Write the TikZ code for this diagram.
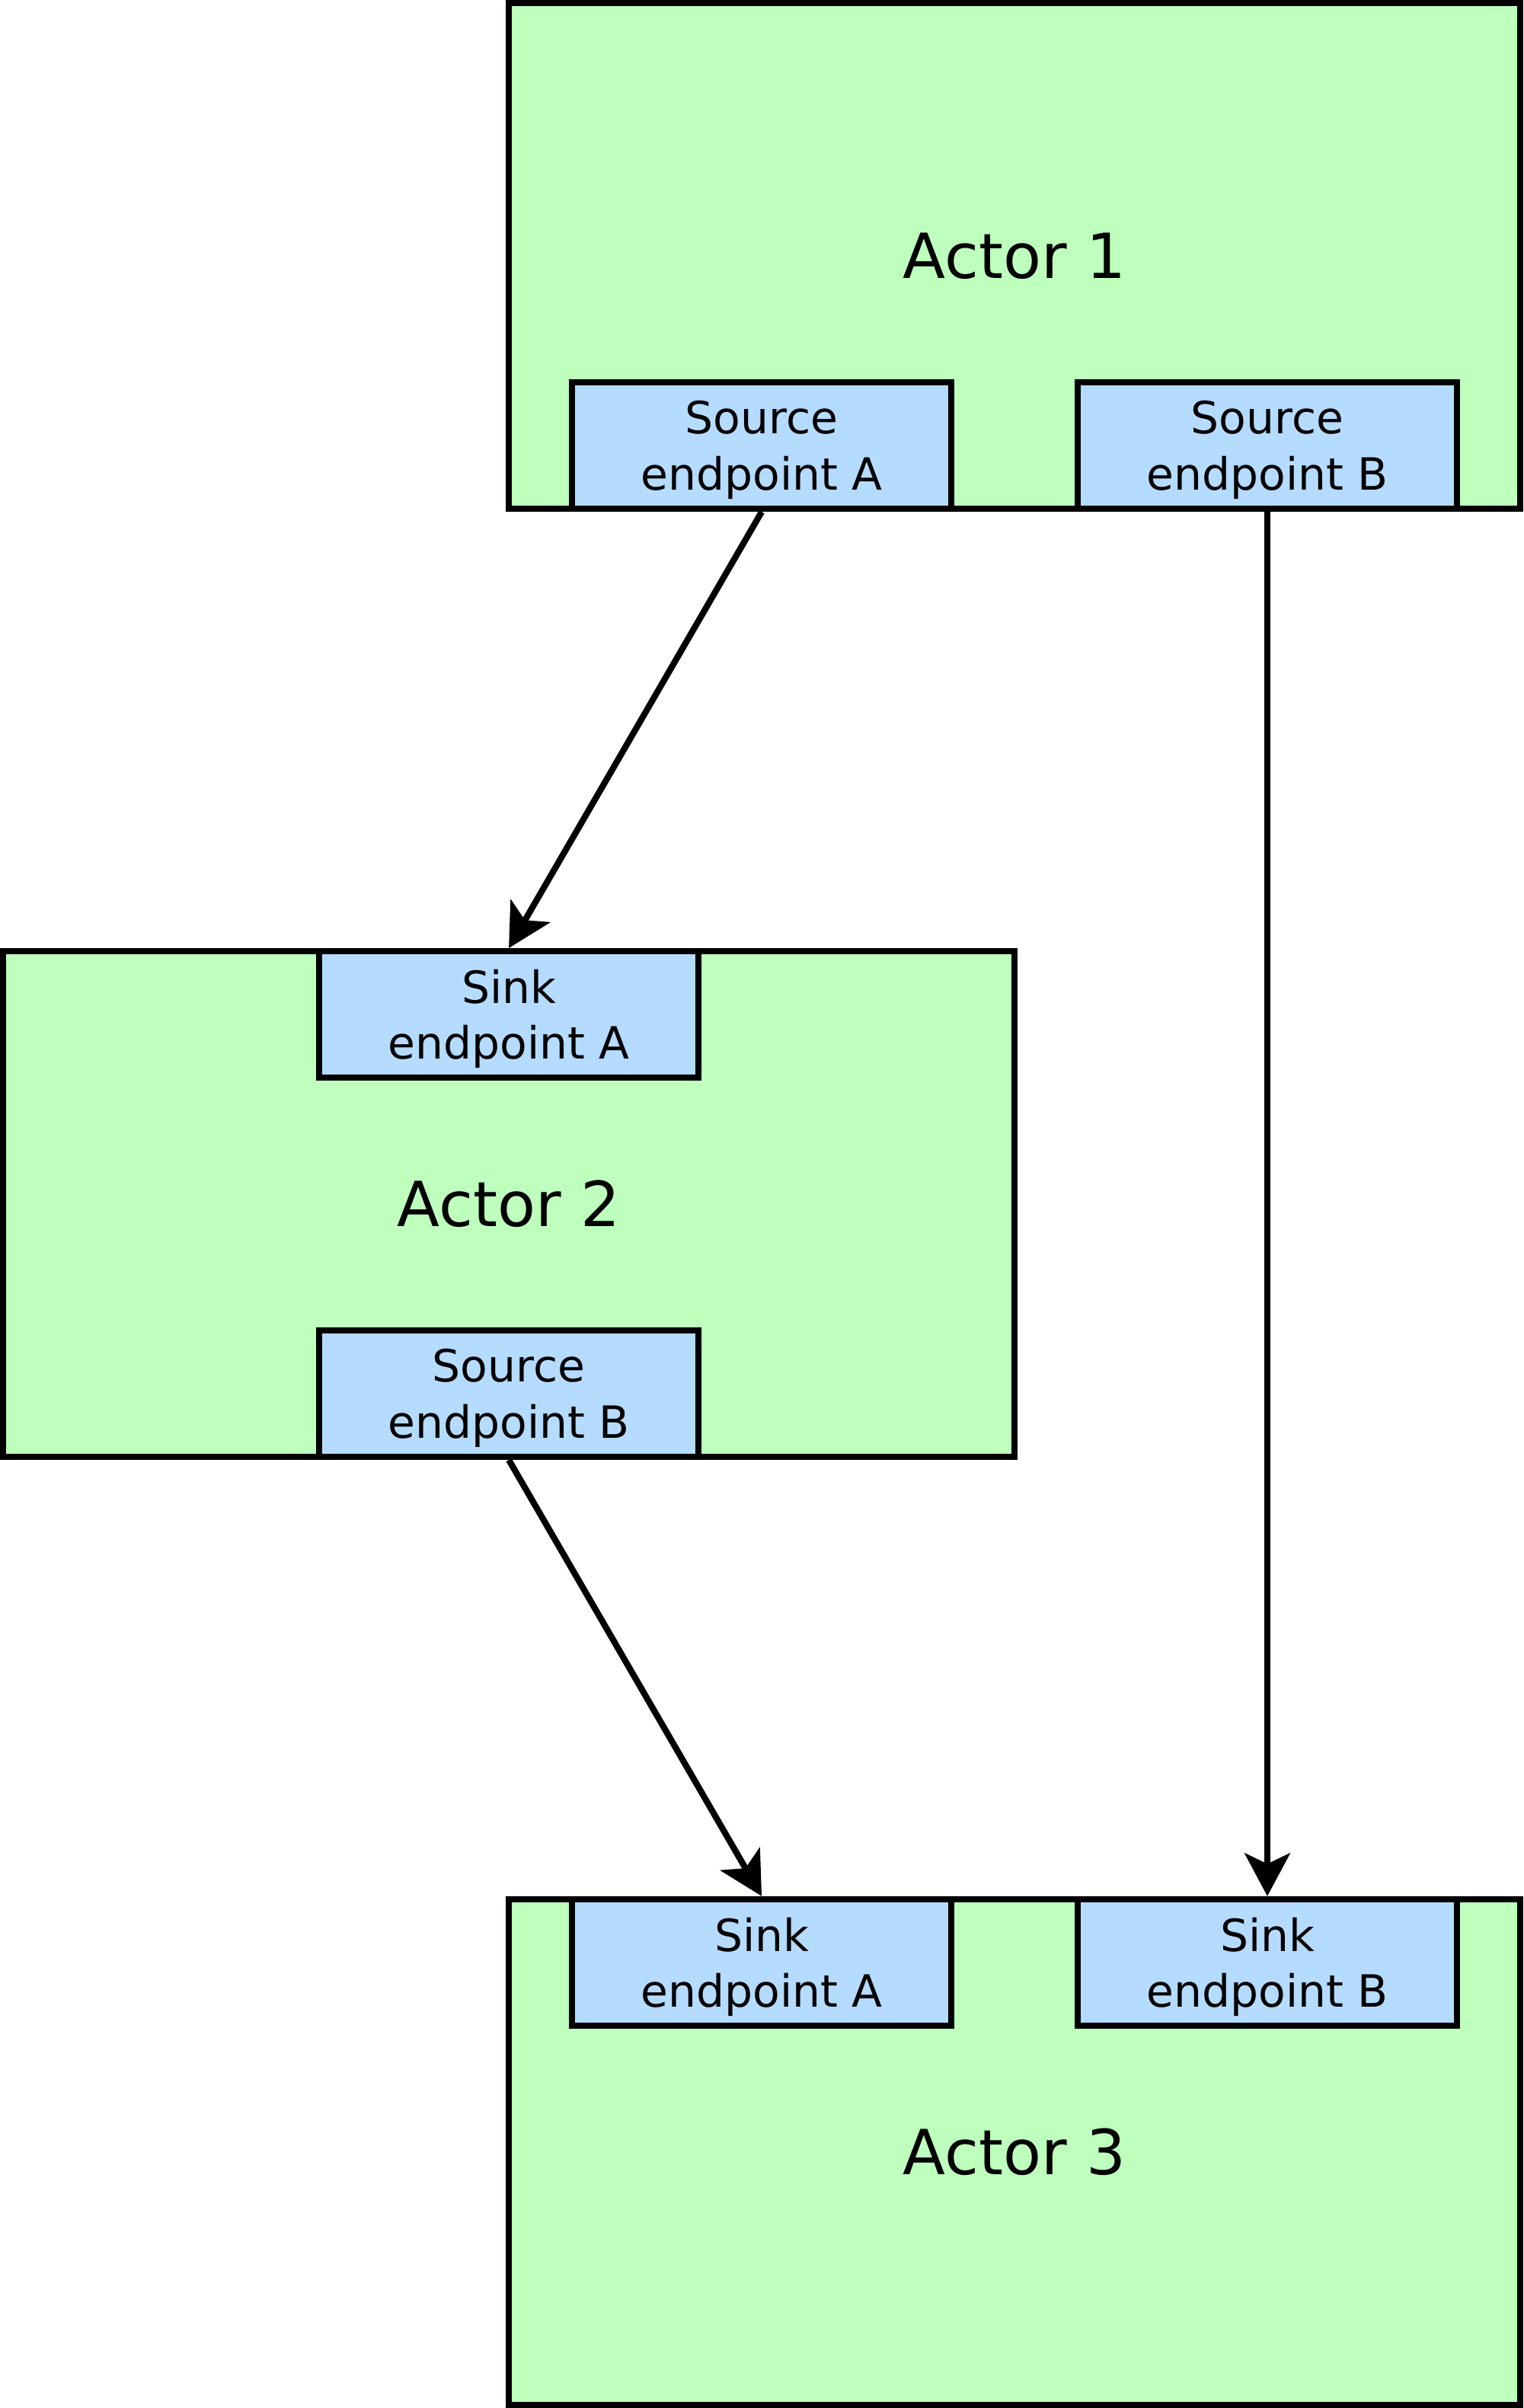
\documentclass[tikz,border=0pt]{standalone}
\usepackage{fontspec}
\setmainfont{DejaVu Sans}
\usetikzlibrary{arrows.meta}
\definecolor{actorgreen}{RGB}{190,255,190}
\definecolor{epblue}{RGB}{181,219,255}
\tikzset{
  actorbox/.style={draw=black, line width=1.4pt, fill=actorgreen, rectangle,
    minimum width=8cm, minimum height=4cm, inner sep=0pt,
    font=\fontsize{14pt}{16pt}\selectfont},
  epbox/.style={draw=black, line width=1.4pt, fill=epblue, rectangle,
    minimum width=3cm, minimum height=1cm, inner sep=0pt},
  eplabel/.style={align=center, inner sep=0pt, yshift=-0.035cm,
    font=\fontsize{10pt}{12.6pt}\selectfont},
  flow/.style={draw=black, line width=1.4pt,
    -{Stealth[length=0.34cm, width=0.36cm, inset=0.085cm]}}
}
\begin{document}
\begin{tikzpicture}
\useasboundingbox (-0.025,0.025) rectangle (12.025,-19.025);
% Actors
\node[actorbox] (actor1) at (8,-2) {Actor 1};
\node[actorbox] (actor2) at (4,-9.5) {Actor 2};
\node[actorbox] (actor3) at (8,-17) {Actor 3};
% Endpoints
\node[epbox, label={[eplabel]center:{Source\\endpoint A}}] (a1srcA) at (6,-3.5) {};
\node[epbox, label={[eplabel]center:{Source\\endpoint B}}] (a1srcB) at (10,-3.5) {};
\node[epbox, label={[eplabel]center:{Sink\\endpoint A}}] (a2sinkA) at (4,-8) {};
\node[epbox, label={[eplabel]center:{Source\\endpoint B}}] (a2srcB) at (4,-11) {};
\node[epbox, label={[eplabel]center:{Sink\\endpoint A}}] (a3sinkA) at (6,-15.5) {};
\node[epbox, label={[eplabel]center:{Sink\\endpoint B}}] (a3sinkB) at (10,-15.5) {};
% Connectors
\draw[flow] (a1srcA.south) -- (a2sinkA.north);
\draw[flow] (a1srcB.south) -- (a3sinkB.north);
\draw[flow] (a2srcB.south) -- (a3sinkA.north);
\end{tikzpicture}
\end{document}
